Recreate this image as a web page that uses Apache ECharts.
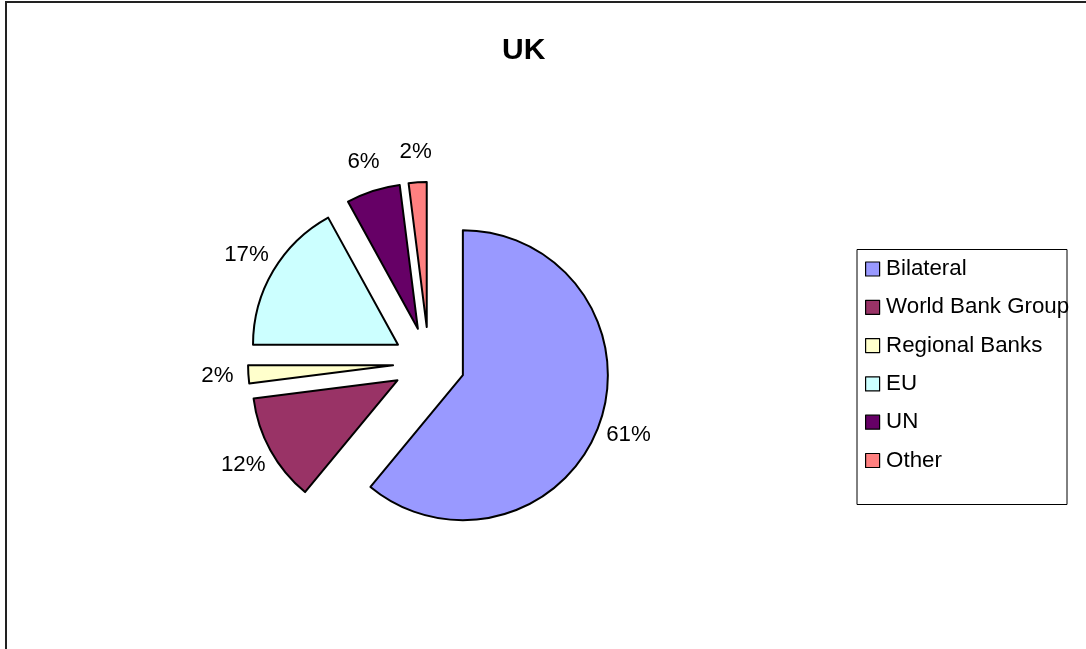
<!DOCTYPE html>
<html>
<head>
<meta charset="utf-8">
<script src="https://cdn.jsdelivr.net/npm/echarts@6/dist/echarts.min.js"></script>
<style>
  html, body { margin: 0; padding: 0; background: #fff; }
  #chart { width: 1086px; height: 649px; }
</style>
</head>
<body>
<div id="chart"></div>
<script>
const titleText = 'UK';
const categories = ['Bilateral', 'World Bank Group', 'Regional Banks', 'EU', 'UN', 'Other'];
const values = [61, 12, 2, 17, 6, 2];
const sliceColors = ['#9999FF', '#993366', '#FFFFCC', '#CCFFFF', '#660066', '#FF8080'];

const FONT = '"Liberation Sans", Arial, sans-serif';

const pieData = categories.map((name, i) => ({
  name: name,
  value: values[i],
  selected: true,
  itemStyle: { color: sliceColors[i] }
}));
const labelData = categories.map((name, i) => ({
  name: name,
  value: values[i],
  selected: true
}));

const chart = echarts.init(document.getElementById('chart'), null, { renderer: 'canvas' });
chart.setOption({
  animation: false,
  backgroundColor: '#ffffff',
  title: {
    text: titleText,
    left: 502,
    top: 36,
    padding: 0,
    textStyle: { fontFamily: FONT, fontSize: 30, fontWeight: 'bold', color: '#000' }
  },
  legend: {
    orient: 'vertical',
    left: 865,
    top: 258,
    padding: 0,
    itemWidth: 14,
    itemHeight: 14,
    itemGap: 16.3,
    icon: 'rect',
    data: categories,
    selectedMode: false,
    itemStyle: { borderColor: '#000', borderWidth: 1.2 },
    textStyle: { fontFamily: FONT, fontSize: 22.3, lineHeight: 22, color: '#000', padding: [0, 0, 0, 1.5] }
  },
  graphic: [
    {
      type: 'rect',
      shape: { x: 6, y: 2, width: 1200, height: 800 },
      style: { fill: 'none', stroke: '#222', lineWidth: 2 },
      silent: true
    },
    {
      type: 'rect',
      shape: { x: 857, y: 249.5, width: 210, height: 255 },
      style: { fill: 'none', stroke: '#000', lineWidth: 1 },
      silent: true
    }
  ],
  series: [
    {
      type: 'pie',
      center: [429, 363],
      radius: 145,
      startAngle: 90,
      clockwise: true,
      selectedMode: 'multiple',
      selectedOffset: 36,
      avoidLabelOverlap: false,
      percentPrecision: 0,
      label: { show: false },
      labelLine: { show: false },
      itemStyle: { borderColor: '#000', borderWidth: 2 },
      emphasis: { disabled: true, scale: false },
      select: { itemStyle: { borderColor: '#000', borderWidth: 2 } },
      data: pieData
    },
    {
      type: 'pie',
      center: [429, 363],
      radius: [166, 180],
      startAngle: 90,
      clockwise: true,
      selectedMode: 'multiple',
      selectedOffset: 36,
      silent: true,
      avoidLabelOverlap: false,
      percentPrecision: 0,
      itemStyle: { color: 'rgba(0,0,0,0)', borderWidth: 0 },
      emphasis: { disabled: true, scale: false },
      select: { itemStyle: { color: 'rgba(0,0,0,0)', borderWidth: 0 } },
      label: {
        show: true,
        position: 'inside',
        formatter: '{d}%',
        fontFamily: FONT,
        fontSize: 22.3,
        color: '#000'
      },
      labelLine: { show: false },
      data: labelData
    }
  ]
});
</script>
</body>
</html>
